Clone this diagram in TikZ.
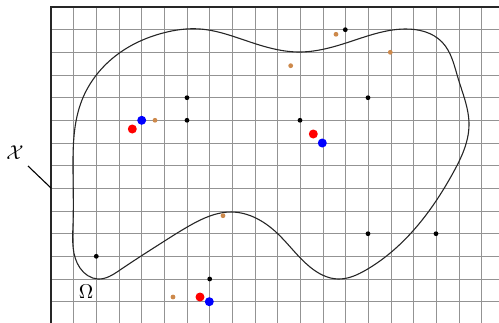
\documentclass[tikz,border=0pt]{standalone}
\usepackage{amsmath}
\usetikzlibrary{hobby}
\begin{document}
\begin{tikzpicture}[x=0.5pt,y=-0.5pt,
  gridline/.style={draw=gray!85,line width=0.45pt},
  frameline/.style={draw=black!85,line width=0.9pt},
  curveline/.style={draw=black!85,line width=0.55pt},
  blackdot/.style={fill=black},
  browndot/.style={fill={rgb,255:red,205;green,137;blue,75}},
  reddot/.style={fill=red},
  bluedot/.style={fill=blue},
  lbl/.style={inner sep=1pt,font=\fontsize{10}{12}\selectfont}]
\useasboundingbox (0,0) rectangle (499,322);
\clip (0,0) rectangle (499,322);
% grid
\foreach \i in {1,...,19} \draw[gridline] ({51+22.667*\i},7) -- ({51+22.667*\i},330);
\foreach \j in {1,...,13} \draw[gridline] (51,{7+22.667*\j}) -- (505,{7+22.667*\j});
% frame
\draw[frameline] (51,330) -- (51,7) -- (505,7);
% closed curve Omega
\draw[curveline,use Hobby shortcut,closed=true]
 (73,167) .. (82,100) .. (118,54) .. (163,33) .. (200,29) .. (250,42) .. (299,52)
 .. (346,43) .. (405,29) .. (442,42) .. (458,78) .. (469,125) .. (453,173) .. (412,232)
 .. (366,270) .. (338,279) .. (310,267) .. (277,233) .. (232,212) .. (189,226)
 .. (163,242) .. (120,270) .. (98,279) .. (80,268) .. (73,225);
% labels
\node[lbl] (xlab) at (15,153) {$\mathcal{X}$};
\coordinate (xend) at (51,188);
\draw[line width=0.55pt] (28,166) -- (xend);
\node[lbl] (omega) at (86,292) {$\Omega$};
% black dots
\foreach \p in {(187,97.7),(187,120.3),(345.3,29.7),(368,97.7),(300,120.3),(96.3,256.3),(209.7,279),(368,233.7),(436,233.7)}
  \fill[blackdot] \p circle[radius=2.4];
% brown dots
\foreach \p in {(155,120.3),(336,34.3),(290.7,65.7),(390.3,52.3),(173,297),(223,215.7)}
  \fill[browndot] \p circle[radius=2.4];
% red dots
\foreach \p in {(132.3,129),(313.3,134),(200,297)}
  \fill[reddot] \p circle[radius=4.5];
% blue dots
\foreach \p in {(141.7,120.3),(322.3,143),(209.3,301.7)}
  \fill[bluedot] \p circle[radius=4.5];
\end{tikzpicture}
\end{document}
